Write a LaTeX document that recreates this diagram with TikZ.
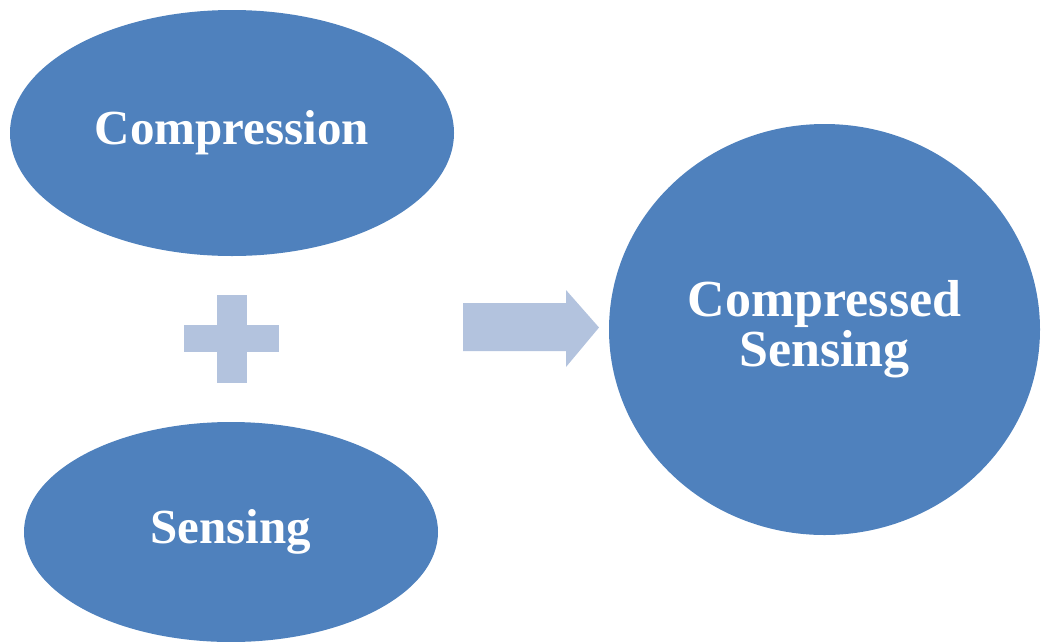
\documentclass[tikz,border=0pt]{standalone}
\usepackage{fontspec}
\setmainfont{Liberation Serif}
\usetikzlibrary{shapes.geometric}
\definecolor{blobblue}{HTML}{4F81BD}
\definecolor{paleblue}{HTML}{B3C3DE}
\begin{document}
\begin{tikzpicture}[x=1pt,y=-1pt,
  blob/.style={ellipse, fill=blobblue, inner sep=0pt, text=white, align=center,
               font=\bfseries\fontsize{49}{50}\selectfont},
  sign/.style={fill=paleblue}]
\useasboundingbox (0,0) rectangle (1041,641);

% the two ingredients
\node[blob, minimum width=444pt, minimum height=246pt] (comp) at (232,133) {Compression};
\node[blob, minimum width=414pt, minimum height=220pt] (sens) at (231,532) {Sensing};

% the result
\node[blob, minimum width=431pt, minimum height=411pt,
      font=\bfseries\fontsize{52}{50}\selectfont] (cs) at (824.5,329.5) {Compressed\\Sensing};

% plus sign between the ingredients
\coordinate (plus) at (232,339);
\fill[sign] ([shift={(-48,-14)}]plus) rectangle ([shift={(47,13)}]plus);
\fill[sign] ([shift={(-15,-44)}]plus) rectangle ([shift={(15,44)}]plus);

% block arrow towards the result
\coordinate (arr) at (463,327);
\fill[sign] ([shift={(0,-24)}]arr) -- ++(103,0) -- ++(0,-13) -- ([shift={(136,0.5)}]arr)
  -- ([shift={(103,40)}]arr) -- ++(0,-16) -- ([shift={(0,24)}]arr) -- cycle;
\end{tikzpicture}
\end{document}
